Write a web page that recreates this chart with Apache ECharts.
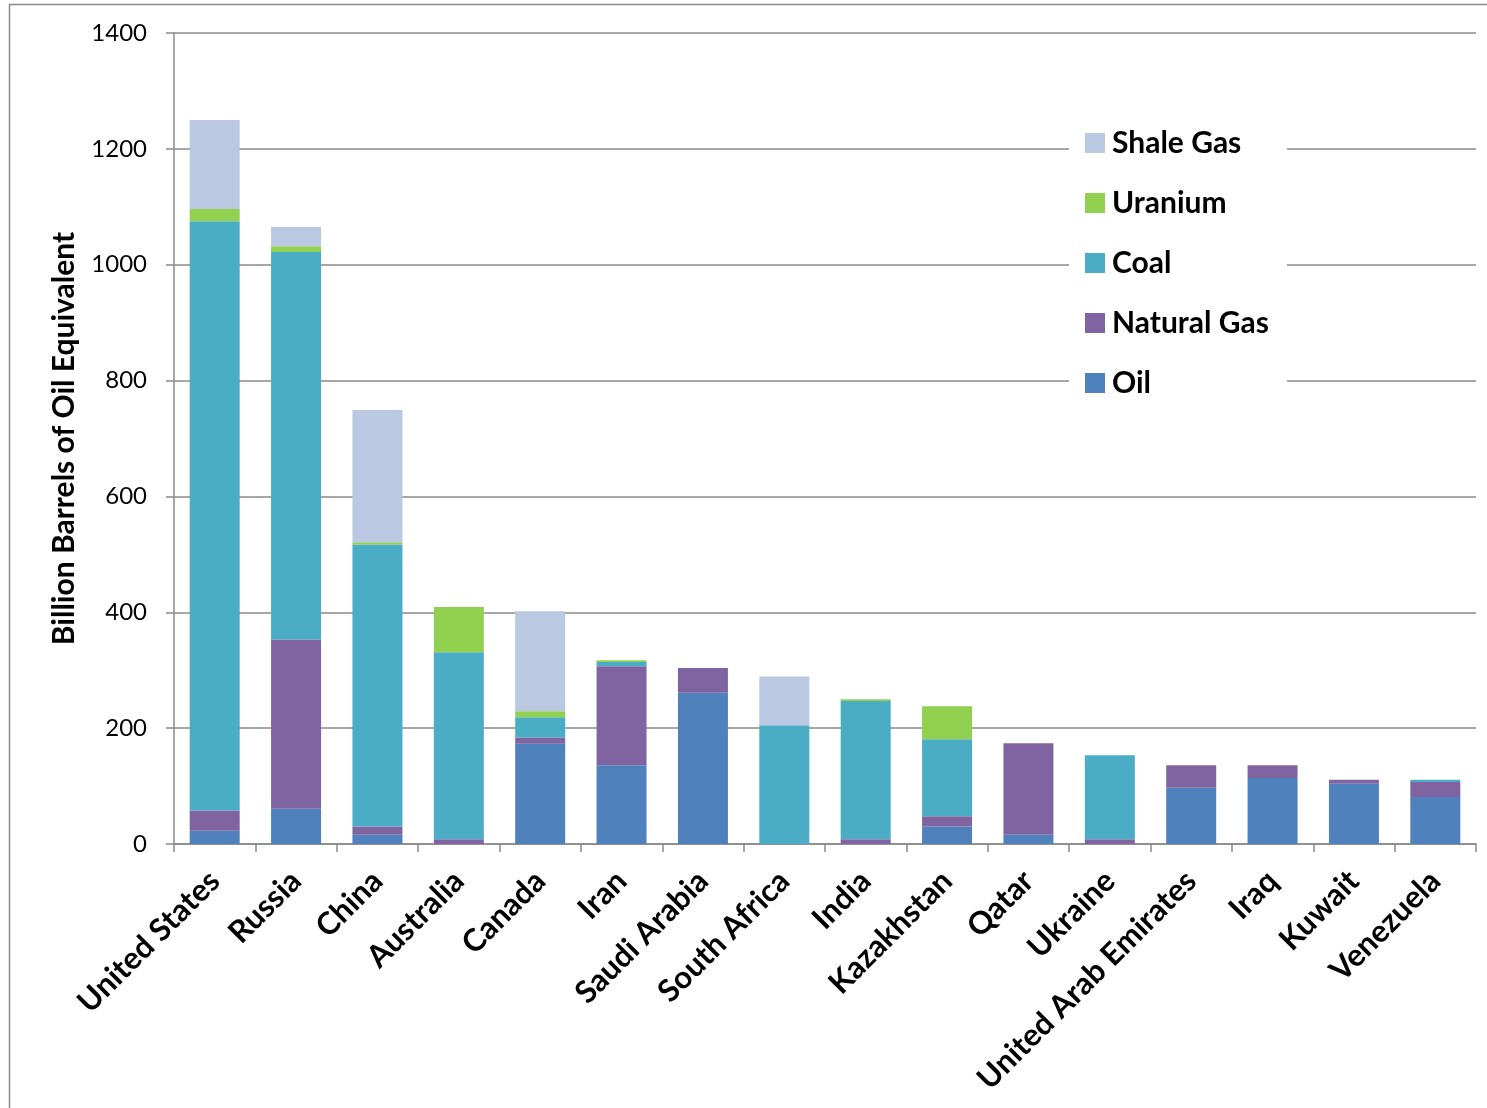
<!DOCTYPE html>
<html>
<head>
<meta charset="utf-8">
<title>Fossil and nuclear energy reserves by country</title>
<script src="https://cdn.jsdelivr.net/npm/echarts@6/dist/echarts.min.js"></script>
<style>
  html, body { margin: 0; padding: 0; background: #ffffff; }
  #chart { width: 1487px; height: 1108px; }
</style>
</head>
<body>
<div id="chart"></div>
<script>
// Reserves in billion barrels of oil equivalent, by country and energy source
const categories = ['United States', 'Russia', 'China', 'Australia', 'Canada', 'Iran', 'Saudi Arabia',
  'South Africa', 'India', 'Kazakhstan', 'Qatar', 'Ukraine', 'United Arab Emirates', 'Iraq', 'Kuwait', 'Venezuela'];
const oil        = [23, 61, 16, 0, 173, 136, 261, 0, 0, 30, 16, 0, 97, 114, 104, 81];
const naturalGas = [35, 292, 14, 8, 11, 171, 43, 0, 8, 18, 158, 8, 39, 22, 7, 26];
const coal       = [1017, 669, 487, 323, 35, 7, 0, 205, 239, 133, 0, 145, 0, 0, 0, 4];
const uranium    = [21, 10, 4, 78, 10, 3, 0, 0, 3, 57, 0, 0, 0, 0, 0, 0];
const shaleGas   = [154, 33, 228, 0, 173, 0, 0, 84, 0, 0, 0, 0, 0, 0, 0, 0];
const yTicks = { min: 0, max: 1400, interval: 200 };

const FONT = 'Lato, "Open Sans", sans-serif';
const GRID_GRAY = '#8a8a8a';

const seriesDefs = [
  { name: 'Oil',         data: oil,        color: '#4F81BD' },
  { name: 'Natural Gas', data: naturalGas, color: '#8064A2' },
  { name: 'Coal',        data: coal,       color: '#4BACC6' },
  { name: 'Uranium',     data: uranium,    color: '#92D050' },
  { name: 'Shale Gas',   data: shaleGas,   color: '#BBC8E1' }
];

const chart = echarts.init(document.getElementById('chart'), null, { renderer: 'canvas' });

chart.setOption({
  animation: false,
  backgroundColor: '#ffffff',
  grid: { left: 174, right: 11, top: 33, bottom: 264, containLabel: false },
  graphic: [
    // outer frame
    { type: 'rect', shape: { x: 9.5, y: 4.5, width: 1500, height: 1120 },
      style: { fill: null, stroke: GRID_GRAY, lineWidth: 1.5 }, z: 0, silent: true },
    // legend backdrop hiding the gridlines behind it
    { type: 'rect', shape: { x: 1069, y: 118, width: 218, height: 290 },
      style: { fill: '#ffffff' }, z: 2, silent: true }
  ],
  legend: {
    data: ['Shale Gas', 'Uranium', 'Coal', 'Natural Gas', 'Oil'],
    orient: 'vertical',
    left: 1085,
    top: 127,
    padding: 0,
    itemWidth: 20,
    itemHeight: 20,
    itemGap: 28,
    icon: 'rect',
    selectedMode: false,
    z: 5,
    textStyle: { fontFamily: FONT, fontWeight: 'bold', fontSize: 30, color: '#000', lineHeight: 32, padding: [0, 0, 0, 2] }
  },
  xAxis: {
    type: 'category',
    data: categories,
    boundaryGap: true,
    axisLine: { show: true, lineStyle: { color: GRID_GRAY, width: 1.5 } },
    axisTick: { show: true, length: 8, inside: false, lineStyle: { color: GRID_GRAY, width: 1.5 } },
    axisLabel: {
      interval: 0, rotate: 45, margin: 32,
      fontFamily: FONT, fontWeight: 'bold', fontSize: 31, color: '#000'
    },
    splitLine: { show: false }
  },
  yAxis: {
    type: 'value',
    min: yTicks.min, max: yTicks.max, interval: yTicks.interval,
    name: 'Billion Barrels of Oil Equivalent',
    nameLocation: 'middle',
    nameGap: 95,
    nameRotate: 90,
    nameTextStyle: { fontFamily: FONT, fontWeight: 'bold', fontSize: 30, color: '#000' },
    axisLine: { show: true, lineStyle: { color: GRID_GRAY, width: 1.5 } },
    axisTick: { show: true, length: 8, inside: false, lineStyle: { color: GRID_GRAY, width: 1.5 } },
    axisLabel: { margin: 27, fontFamily: FONT, fontSize: 24, color: '#000', formatter: v => String(v) },
    splitLine: { show: true, lineStyle: { color: GRID_GRAY, width: 1.5 } }
  },
  series: seriesDefs.map(s => ({
    name: s.name,
    type: 'bar',
    stack: 'total',
    barWidth: 50,
    data: s.data,
    itemStyle: { color: s.color },
    emphasis: { disabled: true },
    z: 3
  }))
});
</script>
</body>
</html>
